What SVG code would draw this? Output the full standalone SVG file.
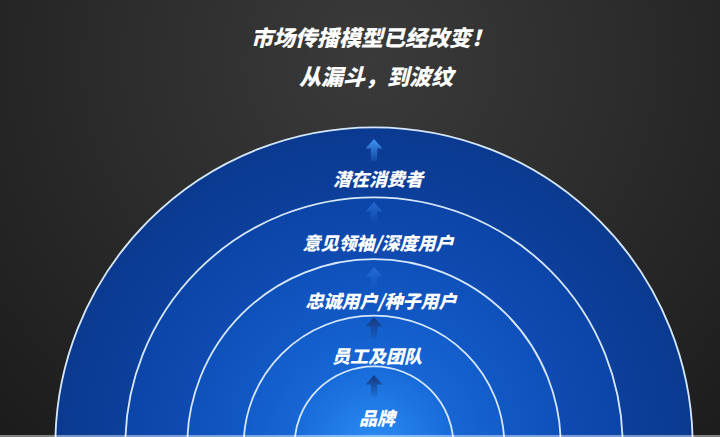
<svg xmlns="http://www.w3.org/2000/svg" width="720" height="437" viewBox="0 0 720 437">
  <defs>
    <radialGradient id="bg" cx="370" cy="60" r="520" gradientUnits="userSpaceOnUse">
      <stop offset="0" stop-color="#3a3a3a"/>
      <stop offset="0.55" stop-color="#2a2a2a"/>
      <stop offset="1" stop-color="#1c1c1c"/>
    </radialGradient>
    <radialGradient id="g1"><stop offset="0" stop-color="#1453c0"/><stop offset="1" stop-color="#0a3a90"/></radialGradient>
    <radialGradient id="g2"><stop offset="0" stop-color="#165cca"/><stop offset="1" stop-color="#0c45a8"/></radialGradient>
    <radialGradient id="g3"><stop offset="0" stop-color="#1968d7"/><stop offset="1" stop-color="#0f51bb"/></radialGradient>
    <radialGradient id="g4"><stop offset="0" stop-color="#1e74e3"/><stop offset="1" stop-color="#125dca"/></radialGradient>
    <radialGradient id="g5"><stop offset="0" stop-color="#2c8cf4"/><stop offset="1" stop-color="#176bd9"/></radialGradient>
    <linearGradient id="aLight" x1="0" y1="0" x2="0" y2="1">
      <stop offset="0" stop-color="#3f92f4" stop-opacity="1"/>
      <stop offset="1" stop-color="#3f92f4" stop-opacity="0.15"/>
    </linearGradient>
    <linearGradient id="aFaint" x1="0" y1="0" x2="0" y2="1">
      <stop offset="0" stop-color="#2a72dc" stop-opacity="0.75"/>
      <stop offset="1" stop-color="#2a72dc" stop-opacity="0"/>
    </linearGradient>
    <linearGradient id="aDark" x1="0" y1="0" x2="0" y2="1">
      <stop offset="0" stop-color="#163a7e" stop-opacity="1"/>
      <stop offset="1" stop-color="#163a7e" stop-opacity="0.1"/>
    </linearGradient>
    <path id="arrow" d="M0,0 L8.5,9.5 L3.2,9.5 L3.2,22 L-3.2,22 L-3.2,9.5 L-8.5,9.5 Z"/>
  </defs>
  <style>
    .ring { stroke: #d6e8ff; stroke-width: 1.8; }
    .label { font-family: "Noto Sans CJK SC", "Noto Sans", sans-serif; font-weight: 900; font-style: italic; font-size: 18px; fill: #ffffff; text-anchor: middle; }
    .title { font-family: "Noto Sans CJK SC", "Noto Sans", sans-serif; font-weight: 900; font-style: italic; font-size: 22px; fill: #ffffff; text-anchor: middle; }
  </style>

  <rect x="0" y="0" width="720" height="437" fill="url(#bg)"/>

  <g id="title">
    <text class="title" x="372" y="46">市场传播模型已经改变！</text>
    <text class="title" x="376" y="85">从漏斗，到波纹</text>
  </g>

  <g id="ring-potential">
    <circle class="ring" cx="374" cy="446" r="318.7" fill="url(#g1)"/>
  </g>
  <g id="ring-kol">
    <circle class="ring" cx="374" cy="446" r="248.7" fill="url(#g2)"/>
  </g>
  <g id="ring-loyal">
    <circle class="ring" cx="374" cy="446" r="186.8" fill="url(#g3)"/>
  </g>
  <g id="ring-staff">
    <circle class="ring" cx="374" cy="446" r="130.4" fill="url(#g4)"/>
  </g>
  <g id="ring-brand">
    <circle class="ring" cx="374" cy="446" r="79.6" fill="url(#g5)"/>
  </g>

  <g id="connectors">
    <use href="#arrow" x="374" y="139" fill="url(#aLight)"/>
    <use href="#arrow" x="374" y="202" fill="url(#aFaint)"/>
    <use href="#arrow" x="374" y="267" fill="url(#aFaint)"/>
    <use href="#arrow" x="374" y="317" fill="url(#aDark)"/>
    <use href="#arrow" x="374" y="375" fill="url(#aDark)"/>
  </g>

  <g id="labels">
    <text id="label-potential" class="label" x="378" y="186">潜在消费者</text>
    <text id="label-kol" class="label" x="378" y="250">意见领袖/深度用户</text>
    <text id="label-loyal" class="label" x="381" y="308">忠诚用户/种子用户</text>
    <text id="label-staff" class="label" x="377" y="363">员工及团队</text>
    <text id="label-brand" class="label" x="377" y="425">品牌</text>
  </g>

  <rect x="0" y="435" width="720" height="2" fill="#ffffff" opacity="0.45"/>
</svg>
